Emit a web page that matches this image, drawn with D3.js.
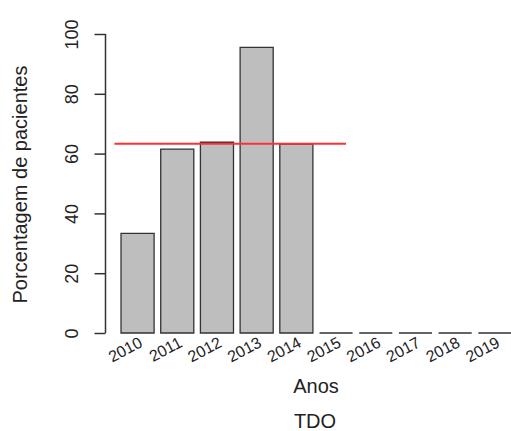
<!DOCTYPE html>
<html>
<head>
<meta charset="utf-8">
<script src="https://cdn.jsdelivr.net/npm/d3@7"></script>
<style>
  html, body { margin: 0; padding: 0; background: #fff; }
  svg { display: block; }
  text { font-family: "Liberation Sans", Arial, sans-serif; fill: #222; }
</style>
</head>
<body>
<svg id="chart" width="511" height="431"></svg>
<script>
const years = ["2010","2011","2012","2013","2014","2015","2016","2017","2018","2019"];
const values = [33.3, 61.5, 63.8, 95.5, 63.2, 0, 0, 0, 0, 0];
const yTicks = [0, 20, 40, 60, 80, 100];
const refValue = 63.3;
const refSpan = [0, 7]; // in barplot units
const yTitle = "Porcentagem de pacientes";
const xTitle = "Anos";
const subTitle = "TDO";

const svg = d3.select("#chart");

// barplot units: bar i spans [0.2 + 1.2 i, 1.2 + 1.2 i]
const xu = d3.scaleLinear().domain([0, 12]).range([114.4, 511.4]);
const y = d3.scaleLinear().domain([0, 100]).range([333, 34]);

// bars drawn as closed paths so zero-height bars still show their border
svg.append("g").selectAll("path").data(values).join("path")
  .attr("d", (d, i) => {
    const x0 = xu(0.2 + 1.2 * i), x1 = xu(1.2 + 1.2 * i);
    return `M${x0},${y(0)}V${y(d)}H${x1}V${y(0)}Z`;
  })
  .attr("fill", "#bebebe")
  .attr("stroke", "#333")
  .attr("stroke-width", 1.3);

// reference line
svg.append("line")
  .attr("x1", xu(refSpan[0])).attr("x2", xu(refSpan[1]))
  .attr("y1", y(refValue)).attr("y2", y(refValue))
  .attr("stroke", "#ff3030").attr("stroke-width", 2);

// y axis
const yAxis = d3.axisLeft(y).tickValues(yTicks).tickSize(11).tickFormat(d3.format("d"));
const gy = svg.append("g").attr("transform", "translate(105.5,0)").call(yAxis);
gy.select(".domain").attr("stroke", "#333").attr("stroke-width", 1.5)
  .attr("d", `M0,${y(0)}V${y(100)}`);
gy.selectAll(".tick line").attr("stroke", "#333").attr("stroke-width", 1.5);
gy.selectAll(".tick text")
  .attr("x", null).attr("dy", null)
  .attr("transform", "translate(-28,0) rotate(-90)")
  .attr("text-anchor", "middle")
  .style("font-size", "18px")
  .style("fill", "#222");

// x labels
svg.append("g").selectAll("text").data(years).join("text")
  .attr("transform", (d, i) => `translate(${xu(0.7 + 1.2 * i) + 6},346) rotate(-28)`)
  .attr("text-anchor", "end")
  .style("font-size", "16px")
  .text(d => d);

// titles
svg.append("text")
  .attr("transform", `translate(27,${(y(0) + y(100)) / 2 + 1}) rotate(-90)`)
  .attr("text-anchor", "middle")
  .style("font-size", "20px")
  .text(yTitle);

svg.append("text")
  .attr("x", 316).attr("y", 393)
  .attr("text-anchor", "middle")
  .style("font-size", "20px")
  .text(xTitle);

svg.append("text")
  .attr("x", 315).attr("y", 428)
  .attr("text-anchor", "middle")
  .style("font-size", "20px")
  .text(subTitle);
</script>
</body>
</html>
